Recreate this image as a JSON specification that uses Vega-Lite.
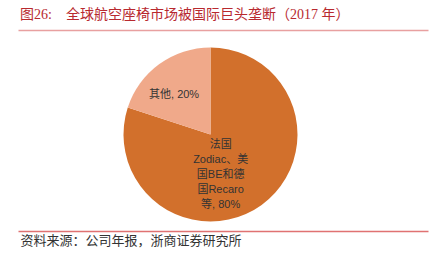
{
  "$schema": "https://vega.github.io/schema/vega-lite/v6.json",
  "autosize": "none",
  "width": 410,
  "height": 201,
  "padding": {"left": 18, "top": 30, "right": 3, "bottom": 31},
  "background": "white",
  "config": {
    "view": {"stroke": null},
    "axis": {"ticks": false, "labels": false, "grid": false, "domain": true, "domainWidth": 1.5, "minExtent": 0}
  },
  "title": {
    "text": "图26:\u00a0\u00a0\u00a0\u00a0全球航空座椅市场被国际巨头垄断（2017\u00a0年）",
    "anchor": "start",
    "frame": "group",
    "orient": "top",
    "baseline": "alphabetic",
    "offset": 9,
    "dx": 2,
    "dy": 12,
    "font": "Liberation Serif, Noto Sans CJK SC",
    "fontSize": 14,
    "fontWeight": "normal",
    "color": "#B8292F"
  },
  "data": {
    "values": [
      {"category": "法国Zodiac、美国BE和德国Recaro等", "value": 80, "label": "法国\nZodiac、美\n国BE和德\n国Recaro\n等, 80%"},
      {"category": "其他", "value": 20, "label": "其他, 20%"}
    ]
  },
  "layer": [
    {
      "mark": {"type": "arc", "radius": 87, "xOffset": -12.5, "yOffset": 4},
      "encoding": {
        "theta": {"field": "value", "type": "quantitative", "stack": true},
        "order": {"field": "value", "type": "quantitative", "sort": "descending"},
        "color": {
          "field": "category",
          "type": "nominal",
          "scale": {"domain": ["法国Zodiac、美国BE和德国Recaro等", "其他"], "range": ["#D2702C", "#F0A98A"]},
          "legend": null
        },
        "x": {
          "datum": 0.5,
          "type": "quantitative",
          "scale": {"domain": [0, 1], "nice": false, "zero": false},
          "axis": {"orient": "top", "domainColor": "#E8A0A0", "title": null}
        }
      }
    },
    {
      "mark": {
        "type": "text",
        "radius": 56,
        "xOffset": -12.5,
        "yOffset": 4,
        "dx": -3.5,
        "dy": 6,
        "align": "center",
        "baseline": "middle",
        "font": "Liberation Sans, Noto Sans CJK SC",
        "fontSize": 11,
        "color": "#333333"
      },
      "encoding": {
        "theta": {"field": "value", "type": "quantitative", "stack": true},
        "order": {"field": "value", "type": "quantitative", "sort": "descending"},
        "text": {"condition": {"test": "datum.category == '其他'", "field": "label"}, "value": ""},
        "x": {
          "datum": 0.5,
          "type": "quantitative",
          "axis": {
            "orient": "bottom",
            "domainColor": "#E07272",
            "title": "资料来源：公司年报，浙商证券研究所",
            "titleAnchor": "start",
            "titleAlign": "left",
            "titleX": 2,
            "titlePadding": 3,
            "titleFont": "Noto Sans CJK SC",
            "titleFontSize": 13,
            "titleFontWeight": "normal",
            "titleColor": "#333333"
          }
        }
      }
    },
    {
      "mark": {
        "type": "text",
        "radius": 13,
        "xOffset": -12.5,
        "yOffset": 4,
        "dx": 2.5,
        "dy": 0,
        "align": "center",
        "baseline": "middle",
        "lineBreak": "\n",
        "lineHeight": 15,
        "font": "Liberation Sans, Noto Sans CJK SC",
        "fontSize": 11,
        "color": "#333333"
      },
      "encoding": {
        "theta": {"field": "value", "type": "quantitative", "stack": true},
        "order": {"field": "value", "type": "quantitative", "sort": "descending"},
        "text": {"condition": {"test": "datum.category != '其他'", "field": "label"}, "value": ""}
      }
    }
  ],
  "resolve": {"axis": {"x": "independent"}}
}
